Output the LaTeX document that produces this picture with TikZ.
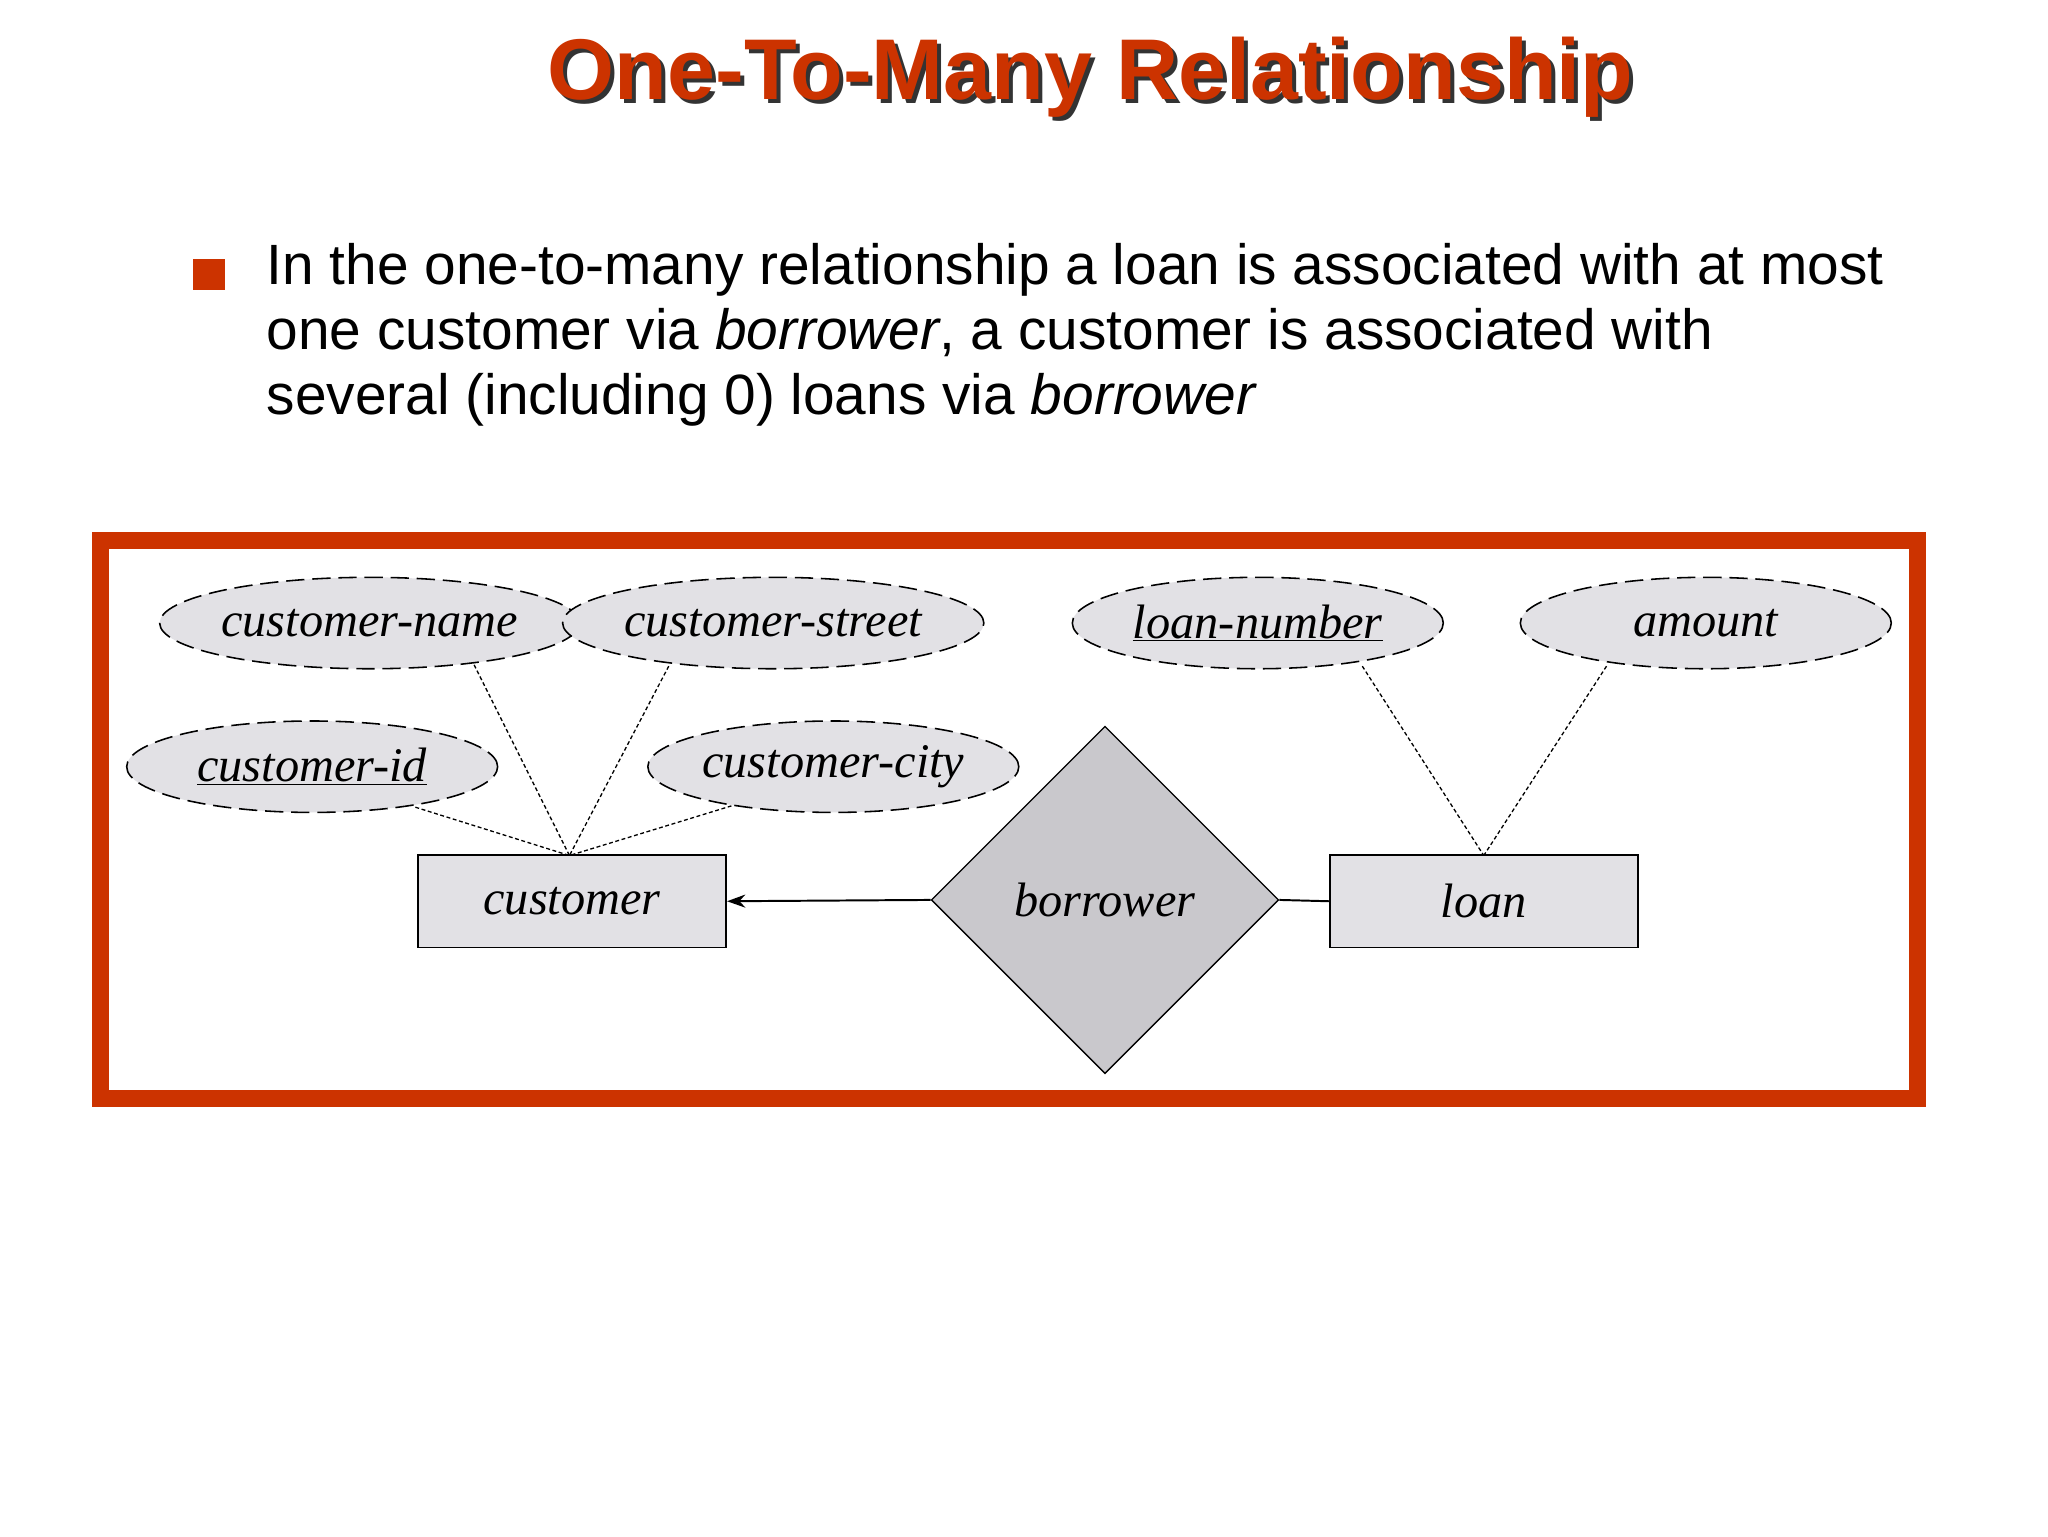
\documentclass[tikz,border=0pt]{standalone}
\usepackage{fontspec}
\setmainfont{Liberation Sans}
\newfontfamily\erfont{Liberation Serif}
\usetikzlibrary{shapes.geometric,arrows.meta}
\definecolor{slred}{HTML}{CC3300}
\definecolor{attrfill}{HTML}{E2E1E5}
\definecolor{relfill}{HTML}{C9C8CC}
\tikzset{
  attr/.style={ellipse,draw,dashed,dash pattern=on 14pt off 6pt,line width=1.2pt,fill=attrfill,minimum width=284pt,minimum height=70pt,inner sep=0pt,font=\erfont\itshape\fontsize{37}{40}\selectfont},
  ent/.style={rectangle,draw,line width=1.3pt,fill=attrfill,minimum width=236pt,minimum height=71pt,inner sep=0pt,font=\erfont\itshape\fontsize{37}{40}\selectfont},
  link/.style={line width=1pt,dash pattern=on 3pt off 2pt}
}
\begin{document}
\begin{tikzpicture}[x=1pt,y=-1pt]
\useasboundingbox (0,0) rectangle (1568,1176);
\fill[white] (0,0) rectangle (1568,1176);
% title
\node[font=\bfseries\fontsize{66}{70}\selectfont,text=black!80] (titsh) at (838,62) {One-To-Many Relationship};
\node[font=\bfseries\fontsize{66}{70}\selectfont,text=slred] (title) at (835,59) {One-To-Many Relationship};
% bullet
\fill[slred] (148,198) rectangle (172,222);
\node[anchor=north west,align=left,inner sep=0pt,font=\fontsize{43.5}{50}\selectfont] (body) at (204,186)
{In the one-to-many relationship a loan is associated with at most\\
one customer via \textit{borrower}, a customer is associated with\\
several (including 0) loans via \textit{borrower}};
% frame
\draw[slred,line width=13pt] (77,414) rectangle (1468,841);
% nodes
\node[attr] (cname) at (283,477) {customer-name};
\node[attr] (cstreet) at (592,477) {customer-street};
\node[attr] (lnum) at (963,477) {\underline{loan-number}};
\node[attr] (amt) at (1306,477) {amount};
\node[attr] (cid) at (239,587) {\underline{customer-id}};
\node[attr] (ccity) at (638,587) {customer-city};
\node[ent] (cust) at (438,690) {customer};
\node[ent] (loan) at (1136,690) {loan};
\node[diamond,draw,line width=1pt,fill=relfill,minimum width=266pt,minimum height=266pt,inner sep=0pt,font=\erfont\itshape\fontsize{37}{40}\selectfont] (bor) at (846,689) {borrower};
\coordinate (ct) at (436,655);
\coordinate (lt) at (1136,655);
\coordinate (pcname) at (363,509);
\coordinate (pcstreet) at (512,510);
\coordinate (pcid) at (318,618);
\coordinate (pccity) at (560,617);
\coordinate (plnum) at (1043,510);
\coordinate (pamt) at (1230,510);
\draw[link] (pcname) -- (ct);
\draw[link] (pcstreet) -- (ct);
\draw[link] (pcid) -- (ct);
\draw[link] (pccity) -- (ct);
\draw[link] (plnum) -- (lt);
\draw[link] (pamt) -- (lt);
\draw[line width=1.5pt,-{Stealth[length=14pt,width=10pt]}] (bor.west) -- (cust.east);
\draw[line width=1.5pt] (bor.east) -- (loan.west);
\end{tikzpicture}
\end{document}
